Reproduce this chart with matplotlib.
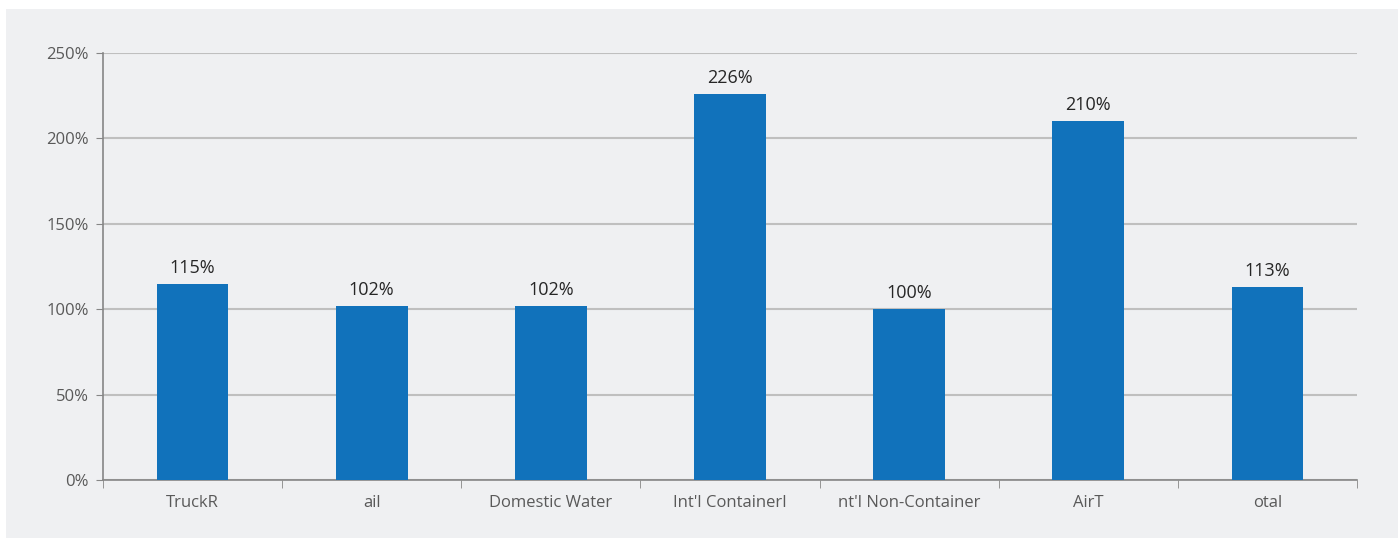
import matplotlib
matplotlib.use("Agg")
import matplotlib.pyplot as plt
from matplotlib.patches import Rectangle
from matplotlib.ticker import FuncFormatter

# Datos del gráfico
categorias = ["TruckR", "ail", "Domestic Water", "Int'l ContainerI",
              "nt'l Non-Container", "AirT", "otal"]
valores = [115, 102, 102, 226, 100, 210, 113]
etiquetas = ["115%", "102%", "102%", "226%", "100%", "210%", "113%"]

plt.rcParams['font.family'] = ['Open Sans', 'DejaVu Sans']

fig = plt.figure(figsize=(13.99, 5.39), dpi=100)
fig.patch.set_facecolor("white")
# panel gris de fondo
fig.patches.append(Rectangle((6 / 1399, 1 / 539), 1392 / 1399, 529 / 539,
                             transform=fig.transFigure, facecolor="#eff0f2",
                             edgecolor="none", zorder=-1))

ax = fig.add_axes([103 / 1399, 1 - 480 / 539, 1254 / 1399, 427 / 539])
ax.set_facecolor("none")

x = range(len(categorias))
barras = ax.bar(x, valores, width=0.4, color="#1172bb", zorder=3)

for xi, v, t in zip(x, valores, etiquetas):
    ax.text(xi, v + 4, t, ha="center", va="bottom", fontsize=13,
            color="#262626", zorder=4)

ax.set_xlim(-0.5, len(categorias) - 0.5)
ax.set_ylim(0, 250)
ax.set_yticks(range(0, 251, 50))
ax.yaxis.set_major_formatter(FuncFormatter(lambda v, p: f"{int(v)}%"))
ax.set_xticks(list(x))
ax.set_xticklabels(categorias)
ax.set_xticks([i - 0.5 for i in range(len(categorias) + 1)], minor=True)

ax.grid(axis="y", color="#bfbfbf", linewidth=1.5, zorder=1)
for s in ["top", "right"]:
    ax.spines[s].set_visible(False)
for s in ["left", "bottom"]:
    ax.spines[s].set_color("#868686")
    ax.spines[s].set_linewidth(1.2)

ax.tick_params(axis="y", length=5, color="#868686", labelsize=12,
               labelcolor="#595959", pad=5)
ax.tick_params(axis="x", which="major", length=0, labelsize=12,
               labelcolor="#595959", pad=11)
ax.tick_params(axis="x", which="minor", length=6, color="#868686")

fig.savefig("out.png", dpi=100)
